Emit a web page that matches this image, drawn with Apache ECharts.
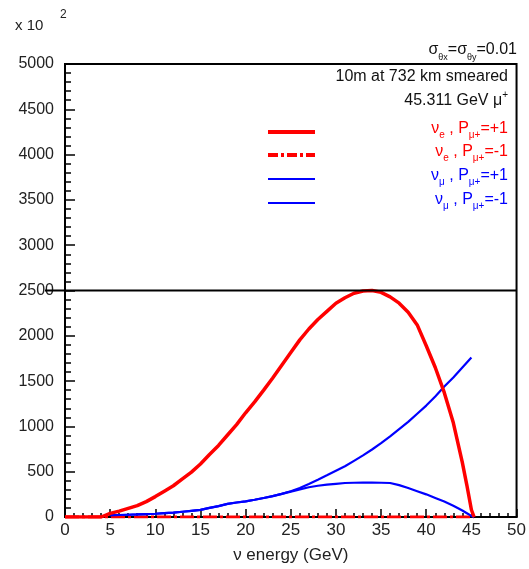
<!DOCTYPE html>
<html>
<head>
<meta charset="utf-8">
<script src="https://cdn.jsdelivr.net/npm/echarts@6/dist/echarts.min.js"></script>
<style>
html,body{margin:0;padding:0;background:#fff;}
#chart{width:529px;height:569px;}
</style>
</head>
<body>
<div id="chart"></div>
<script>
// ---- data ----
const xTicks = [0, 5, 10, 15, 20, 25, 30, 35, 40, 45, 50];
const yTicks = [0, 500, 1000, 1500, 2000, 2500, 3000, 3500, 4000, 4500, 5000];

const eRed = [0, 4, 5, 6, 7, 8, 9, 10, 11, 12, 13, 14, 15, 16, 17, 18, 19, 20, 21, 22, 23, 24, 25, 26, 27, 28, 29, 30, 31, 32, 33, 34, 35, 36, 37, 38, 39, 40, 41, 42, 43, 44, 44.5, 45, 45.3];
const nueP1 = [0, 0, 40, 65, 95, 125, 170, 225, 285, 345, 420, 495, 585, 690, 790, 905, 1020, 1150, 1270, 1400, 1535, 1675, 1815, 1955, 2075, 2180, 2270, 2360, 2420, 2470, 2495, 2500, 2480, 2430, 2360, 2260, 2120, 1890, 1650, 1372, 1040, 600, 350, 80, 0];

const eRedM = [0, 45.3];
const nueM1 = [0, 0];

const eBlueUp = [5, 6, 7, 8, 9, 10, 11, 12, 13, 14, 15, 16, 17, 18, 19, 20, 21, 22, 23, 24, 25, 26, 27, 28, 29, 30, 31, 32, 33, 34, 35, 36, 37, 38, 39, 40, 41, 42, 43, 44, 45];
const numuP1 = [20, 22, 25, 28, 32, 36, 42, 48, 58, 68, 78, 100, 120, 145, 160, 172, 190, 210, 230, 255, 285, 320, 365, 412, 460, 510, 560, 620, 680, 745, 815, 890, 970, 1050, 1140, 1230, 1330, 1440, 1540, 1650, 1760];

const eBlueHump = [5, 6, 7, 8, 9, 10, 11, 12, 13, 14, 15, 16, 17, 18, 19, 20, 21, 22, 23, 24, 25, 26, 27, 28, 29, 30, 31, 32, 33, 34, 35, 36, 37, 38, 39, 40, 41, 42, 43, 44, 44.5, 45, 45.3];
const numuM1 = [20, 22, 25, 28, 32, 36, 42, 48, 58, 68, 78, 100, 120, 145, 160, 172, 190, 210, 230, 255, 280, 305, 328, 345, 357, 366, 375, 378, 380, 380, 378, 375, 352, 320, 285, 250, 210, 170, 125, 72, 42, 12, 0];

const lineRef = 2500;

const pairs = (xs, ys) => xs.map((x, i) => [x, ys[i]]);

const FONT = '"Liberation Sans", Arial, sans-serif';
const RED = '#ff0000', BLUE = '#0000ff';

const chart = echarts.init(document.getElementById('chart'));

const sub = (c) => ({ fontSize: 10, fontFamily: FONT, color: c, lineHeight: 22, verticalAlign: 'bottom' });
const main = (c) => ({ fontSize: 16, fontFamily: FONT, color: c, lineHeight: 22, verticalAlign: 'middle' });

chart.setOption({
  animation: false,
  backgroundColor: '#fff',
  grid: { left: 65, right: 10, top: 64, bottom: 52, show: true, borderColor: '#000', borderWidth: 2, backgroundColor: 'transparent' },
  xAxis: {
    type: 'value', min: 0, max: 50, interval: 5,
    name: 'ν energy (GeV)', nameLocation: 'middle', nameGap: 30,
    nameTextStyle: { fontSize: 17, fontFamily: FONT, color: '#222' },
    axisLine: { show: true, onZero: false, lineStyle: { color: '#000', width: 2 } },
    axisTick: { show: true, inside: true, length: 8, lineStyle: { color: '#000', width: 1.5 } },
    minorTick: { show: true, splitNumber: 5, length: 4, lineStyle: { color: '#000', width: 1.5 } },
    axisLabel: { fontSize: 17, fontFamily: FONT, color: '#222', margin: 5, formatter: v => xTicks.includes(v) ? String(v) : '' },
    splitLine: { show: false }
  },
  yAxis: {
    type: 'value', min: 0, max: 5000, interval: 500,
    axisLine: { show: true, lineStyle: { color: '#000', width: 2 } },
    axisTick: { show: true, inside: true, length: 10, lineStyle: { color: '#000', width: 1.5 } },
    minorTick: { show: true, splitNumber: 5, length: 6, lineStyle: { color: '#000', width: 1.5 } },
    axisLabel: { fontSize: 16, fontFamily: FONT, color: '#222', margin: 11, formatter: v => yTicks.includes(v) ? String(v) : '' },
    splitLine: { show: false }
  },
  series: [
    { name: 'nue P-1', type: 'line', data: pairs(eRedM, nueM1), showSymbol: false, z: 2,
      lineStyle: { color: RED, width: 3, type: [14, 3, 3, 3] } },
    { name: 'numu P+1', type: 'line', data: pairs(eBlueUp, numuP1), showSymbol: false, z: 3,
      lineStyle: { color: BLUE, width: 2.2 } },
    { name: 'numu P-1', type: 'line', data: pairs(eBlueHump, numuM1), showSymbol: false, z: 3,
      lineStyle: { color: BLUE, width: 2.2 } },
    { name: 'nue P+1', type: 'line', data: pairs(eRed, nueP1), showSymbol: false, z: 4,
      lineStyle: { color: RED, width: 3.5 } }
  ]
});

const yPix = chart.convertToPixel({ gridIndex: 0 }, [0, lineRef])[1];
const xRight = chart.convertToPixel({ gridIndex: 0 }, [50, 0])[0];

const legendRows = [
  { y: 132, color: RED, width: 4, dash: null, sym: 'e' },
  { y: 155, color: RED, width: 4, dash: [10, 3, 3, 3], sym: 'e' },
  { y: 179, color: BLUE, width: 2, dash: null, sym: 'μ' },
  { y: 203, color: BLUE, width: 2, dash: null, sym: 'μ' }
];
const legendLabels = ['=+1', '=-1', '=+1', '=-1'];

const graphics = [
  { type: 'line', shape: { x1: 45, y1: yPix, x2: xRight, y2: yPix }, style: { stroke: '#000', lineWidth: 2 }, z: 100 },
  { type: 'text', left: 15, top: 18, style: { text: 'x 10', fontSize: 15, fontFamily: FONT, fill: '#222' } },
  { type: 'text', left: 60, top: 9, style: { text: '2', fontSize: 12, fontFamily: FONT, fill: '#222' } },
  { type: 'text', right: 12, top: 42, style: {
      text: 'σ{s|θx}=σ{s|θy}=0.01', fontSize: 16, fontFamily: FONT, fill: '#111',
      rich: { s: { fontSize: 9, fontFamily: FONT, fill: '#111', lineHeight: 24, verticalAlign: 'bottom' } } } },
  { type: 'text', right: 21, top: 69, style: { text: '10m at 732 km smeared', fontSize: 16, fontFamily: FONT, fill: '#111' } },
  { type: 'text', right: 21, top: 90, style: {
      text: '45.311 GeV μ{p|+}', fontSize: 16, fontFamily: FONT, fill: '#111',
      rich: { p: { fontSize: 10, fontFamily: FONT, fill: '#111', lineHeight: 22, verticalAlign: 'top' } } } }
];
legendRows.forEach((r, i) => {
  graphics.push({ type: 'line', shape: { x1: 268, y1: r.y, x2: 315, y2: r.y },
    style: { stroke: r.color, lineWidth: r.width, lineDash: r.dash || null } });
  graphics.push({ type: 'text', right: 21, top: r.y - 11, style: {
    text: '{m|ν}{s|' + r.sym + '}{m| , P}{s|μ+}{m|' + legendLabels[i] + '}',
    rich: { m: Object.assign(main(r.color), { fill: r.color }), s: Object.assign(sub(r.color), { fill: r.color }) } } });
});

chart.setOption({ graphic: graphics });
</script>
</body>
</html>
